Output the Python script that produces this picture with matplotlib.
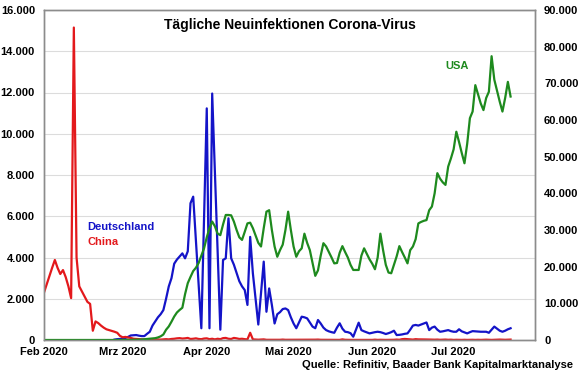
import numpy as np
import pandas as pd
import matplotlib
matplotlib.use("Agg")
import matplotlib.pyplot as plt
from matplotlib.ticker import FuncFormatter, MultipleLocator

plt.rcParams['font.family'] = ['Liberation Sans', 'DejaVu Sans']
plt.rcParams['font.weight'] = 'bold'

# Tägliche Neuinfektionen, ab 1. Februar 2020 (China, USA) bzw. 27. Februar (Deutschland)
china = [
    # Feb
    2300, 2700, 3100, 3500, 3880, 3500, 3200, 3390, 3050, 2600, 2030, 15150, 4000, 2600, 2350,
    2100, 1850, 1750, 450, 900, 820, 700, 600, 520, 480, 440, 400, 350, 200,
    # Mar
    130, 150, 120, 100, 60, 50, 40, 30, 20, 15, 20, 15, 20, 25, 20, 30, 40, 30, 50, 60,
    80, 90, 70, 80, 100, 50, 60, 80, 50, 40, 70,
    # Apr
    80, 40, 60, 30, 60, 40, 90, 100, 60, 50, 100, 80, 50, 60, 40, 30, 350, 30, 20, 15,
    20, 30, 10, 10, 15, 10, 5, 10, 20, 10,
    # Mai
    10, 5, 5, 5, 15, 5, 5, 5, 10, 5, 15, 20, 10, 10, 10, 5, 10, 5, 5, 5,
    30, 10, 5, 5, 5, 5, 10, 10, 5, 5, 5,
    # Jun
    5, 15, 5, 10, 5, 5, 5, 5, 10, 20, 10, 40, 50, 40, 30, 20, 40, 30, 30, 25,
    25, 20, 20, 15, 20, 10, 15, 20, 10, 15,
    # Jul
    5, 10, 5, 5, 10, 5, 10, 10, 5, 10, 5, 10, 15, 10, 5, 10, 10, 20, 15, 10, 15, 20,
]

deutschland = [
    # Feb (ab 27.)
    20, 40, 50,
    # Mar
    60, 100, 150, 220, 230, 240, 210, 190, 190, 300, 400, 700, 900, 1100, 1250,
    1450, 2000, 2600, 3000, 3700, 3900, 4050, 4200, 3960, 4300, 6630, 6950, 4800, 2700, 570, 5900,
    # Apr
    11230, 570, 11950, 8100, 4300, 500, 3880, 3960, 5900, 3960, 3650, 3250, 2850, 2600, 2420,
    1700, 5000, 3230, 2000, 750, 2300, 3800, 1370, 2500, 1700, 800, 1250, 1350, 1500, 1530,
    # Mai
    1450, 1100, 800, 570, 850, 1130, 1100, 1050, 850, 650, 570, 970, 800, 600, 480,
    420, 380, 350, 600, 810, 550, 400, 380, 330, 160, 500, 840, 480, 420, 370, 320,
    # Jun
    350, 380, 400, 380, 340, 290, 330, 380, 450, 240, 250, 270, 300, 320, 500,
    700, 730, 700, 750, 800, 850, 480, 600, 650, 500, 400, 420, 450, 480, 430,
    # Jul
    400, 400, 520, 420, 370, 320, 380, 430, 420, 410, 400, 400, 400, 350, 500,
    650, 550, 450, 400, 450, 520, 570,
]

usa = [
    # Feb
    1, 0, 3, 0, 0, 0, 1, 0, 0, 1, 1, 0, 1, 0, 0, 0, 0, 0, 0, 1, 0, 0, 0, 0, 0, 2, 3, 5, 10,
    # Mar
    20, 25, 30, 40, 60, 70, 120, 130, 200, 300, 330, 400, 500, 700, 1000,
    1500, 2800, 3700, 5000, 6400, 7500, 8200, 8800, 12500, 15500, 17200, 18800, 19700, 21000, 23000, 25000,
    # Apr
    28000, 30500, 32300, 31000, 29000, 28600, 31500, 34100, 34100, 34000, 32300, 30000, 28000, 27300, 29500,
    31800, 32000, 30500, 28500, 26500, 25500, 30500, 35000, 35400, 30000, 25500, 22700, 24500, 26000, 30000,
    # Mai
    35000, 30000, 25500, 22700, 24200, 25000, 29000, 26500, 24500, 21000, 17500, 19000, 23000, 26400, 25500,
    24000, 22500, 20900, 21000, 23800, 25600, 24000, 22500, 20500, 19100, 19100, 19100, 23000, 25000, 23500, 22000,
    # Jun
    20800, 19300, 22500, 29000, 24500, 20500, 18400, 18200, 20500, 22800, 25600, 24000, 22500, 20900, 24500,
    25500, 27500, 31800, 32200, 32500, 32700, 35400, 36400, 40000, 45500, 44000, 43000, 42300, 47300, 49500,
    # Jul
    52000, 56800, 54000, 51000, 48200, 53500, 60500, 62300, 69500, 67000, 64500, 62700, 66000, 67700, 77400,
    71000, 68000, 65000, 62300, 66000, 70400, 66400,
]

china_dates = pd.date_range('2020-02-01', periods=len(china))
de_dates = pd.date_range('2020-02-27', periods=len(deutschland))
usa_dates = pd.date_range('2020-02-01', periods=len(usa))

month_ticks = pd.to_datetime(['2020-02-01', '2020-03-01', '2020-04-01', '2020-05-01', '2020-06-01', '2020-07-01'])
month_labels = ['Feb 2020', 'Mrz 2020', 'Apr 2020', 'Mai 2020', 'Jun 2020', 'Jul 2020']

red = '#e3191c'
blue = '#1414c8'
green = '#1e8a1e'
frame = '#8c8c8c'


def de_fmt(v, pos):
    return f"{v:,.0f}".replace(",", ".")


fig = plt.figure(figsize=(5.8, 3.75), dpi=100)
ax = fig.add_axes([44 / 580, 1 - 340 / 375, 491 / 580, 330 / 375])
ax2 = ax.twinx()

ax.plot(de_dates, deutschland, color=blue, lw=1.6)
ax.plot(china_dates, china, color=red, lw=1.6)
ax2.plot(usa_dates, usa, color=green, lw=1.6)

ax.set_xlim(pd.Timestamp('2020-02-01'), pd.Timestamp('2020-07-31'))
ax.set_ylim(0, 16000)
ax2.set_ylim(0, 90000)
ax.yaxis.set_major_locator(MultipleLocator(2000))
ax2.yaxis.set_major_locator(MultipleLocator(10000))
ax.yaxis.set_major_formatter(FuncFormatter(de_fmt))
ax2.yaxis.set_major_formatter(FuncFormatter(de_fmt))

ax.set_xticks(month_ticks)
ax.set_xticklabels(month_labels)

ax.grid(axis='y', color='#dcdcdc', lw=0.8)
ax.set_axisbelow(True)

for a in (ax, ax2):
    a.tick_params(length=0, labelsize=8, pad=6.5)
    for s in a.spines.values():
        s.set_color(frame)
        s.set_linewidth(1)
ax.tick_params(axis='x', pad=5)
for lab in ax.get_xticklabels() + ax.get_yticklabels() + ax2.get_yticklabels():
    lab.set_fontweight('bold')

ax.text(0.5, 0.955, 'Tägliche Neuinfektionen Corona-Virus', transform=ax.transAxes,
        ha='center', va='center', fontsize=10, fontweight='bold')
ax.text(0.088, 0.342, 'Deutschland', transform=ax.transAxes, ha='left', va='center',
        fontsize=8, fontweight='bold', color=blue)
ax.text(0.088, 0.298, 'China', transform=ax.transAxes, ha='left', va='center',
        fontsize=8, fontweight='bold', color=red)
ax.text(0.841, 0.830, 'USA', transform=ax.transAxes, ha='center', va='center',
        fontsize=8, fontweight='bold', color=green)
fig.text(573 / 580, 1 - 365 / 375, 'Quelle: Refinitiv, Baader Bank Kapitalmarktanalyse',
         ha='right', va='center', fontsize=8, fontweight='bold')

fig.savefig('out.png', dpi=100)
